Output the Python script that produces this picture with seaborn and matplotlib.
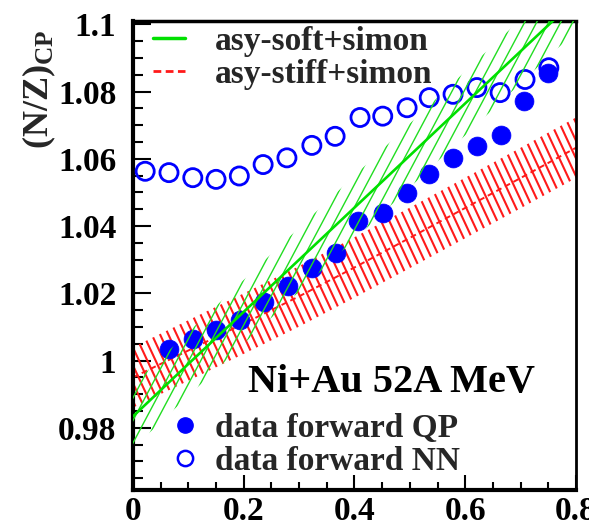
import numpy as np
import matplotlib
matplotlib.use("Agg")
import matplotlib.pyplot as plt
import seaborn as sns
from matplotlib.collections import LineCollection
from matplotlib.lines import Line2D
from matplotlib.ticker import FixedLocator, MultipleLocator, FuncFormatter

# ---------------- data ----------------
x_nn = [0.022, 0.065, 0.108, 0.150, 0.192, 0.235, 0.278, 0.323, 0.365,
        0.410, 0.451, 0.495, 0.535, 0.578, 0.621, 0.663, 0.708, 0.751]
y_nn = [1.0563, 1.0559, 1.0544, 1.0539, 1.0549, 1.0583, 1.0603, 1.0640, 1.0667,
        1.0723, 1.0727, 1.0752, 1.0782, 1.0792, 1.0812, 1.0797, 1.0836, 1.0871]

x_qp = [0.065, 0.108, 0.150, 0.193, 0.237, 0.280, 0.323, 0.367, 0.406,
        0.451, 0.495, 0.535, 0.578, 0.621, 0.665, 0.706, 0.749]
y_qp = [1.0035, 1.0065, 1.0090, 1.0122, 1.0174, 1.0221, 1.0276, 1.0321, 1.0415,
        1.0440, 1.0499, 1.0554, 1.0603, 1.0638, 1.0670, 1.0772, 1.0856]

x_model = [0.0, 0.1, 0.2, 0.3, 0.4, 0.5, 0.6, 0.7, 0.8]
soft_center = [0.9834, 0.9990, 1.0145, 1.0300, 1.0455, 1.0610, 1.0765, 1.0920, 1.1075]
soft_halfwidth = [0.0095] * 9
stiff_center = [0.9950, 1.0030, 1.0110, 1.0191, 1.0277, 1.0365, 1.0454, 1.0543, 1.0633]
stiff_halfwidth = [0.0090] * 9

x_ticks = [0.0, 0.2, 0.4, 0.6, 0.8]
y_ticks = [0.98, 1.00, 1.02, 1.04, 1.06, 1.08, 1.10]
model_labels = ["asy-soft+simon", "asy-stiff+simon"]
data_labels = ["data forward QP", "data forward NN"]
system_text = "Ni+Au 52A MeV"
y_label = r"(N/Z)$_{\mathbf{CP}}$"

# ---------------- style ----------------
sns.set_theme(style="ticks")
plt.rcParams["font.family"] = ["Liberation Serif", "DejaVu Serif"]
plt.rcParams["font.weight"] = "bold"
plt.rcParams["mathtext.fontset"] = "custom"
plt.rcParams["mathtext.rm"] = "Liberation Serif:bold"
plt.rcParams["mathtext.bf"] = "Liberation Serif:bold"
plt.rcParams["mathtext.it"] = "Liberation Serif:bold:italic"

GREEN = "#00e000"
GREEN_H = "#22dd22"
RED = "#ff1a1a"
BLUE = "#0000ff"

fig = plt.figure(figsize=(5.89, 5.29), dpi=100)
ax = fig.add_axes([0.2258, 0.0737, 0.7521, 0.8866])
ax.set_xlim(0, 0.8)
ax.set_ylim(0.9615, 1.101)


def hatch_band(ax, x, center, half, angle, spacing_px, color, lw, z):
    x = np.asarray(x)
    c = np.asarray(center)
    h = np.asarray(half)
    band = ax.fill_between(x, c - h, c + h, facecolor="none",
                           edgecolor="none", linewidth=0)
    f = ax.figure
    pos = ax.get_position()
    W = pos.width * f.get_figwidth() * f.dpi
    H = pos.height * f.get_figheight() * f.dpi
    a = np.deg2rad(angle)
    d = np.array([np.cos(a), np.sin(a)])
    n = np.array([-np.sin(a), np.cos(a)])
    corners = np.array([[0, 0], [W, 0], [0, H], [W, H]])
    cs = corners @ n
    step = spacing_px * abs(np.sin(a))
    L = W + H
    segs = []
    for cc in np.arange(cs.min() - step, cs.max() + step, step):
        p0 = cc * n - L * d
        p1 = cc * n + L * d
        segs.append([(p0[0] / W, p0[1] / H), (p1[0] / W, p1[1] / H)])
    lc = LineCollection(segs, colors=color, linewidths=lw,
                        transform=ax.transAxes, zorder=z)
    ax.add_collection(lc, autolim=False)
    lc.set_clip_path(band.get_paths()[0], ax.transData)


# stiff band (red, "\" hatching)
hatch_band(ax, x_model, stiff_center, stiff_halfwidth, -65, 8.3, RED, 1.5, 1)
sns.lineplot(x=x_model, y=stiff_center, ax=ax, color=RED, linewidth=1.4,
             linestyle=(0, (3, 2)), zorder=2)

# data points
sns.scatterplot(x=x_qp, y=y_qp, ax=ax, marker="o", s=185, color=BLUE,
                edgecolor=BLUE, linewidth=0.5, zorder=3)
sns.scatterplot(x=x_nn, y=y_nn, ax=ax, marker="o", s=170, facecolor="none",
                edgecolor=BLUE, linewidth=2.0, zorder=3)

# soft band (green, "/" hatching)
hatch_band(ax, x_model, soft_center, soft_halfwidth, 62, 12, GREEN_H, 1.0, 4)
sns.lineplot(x=x_model, y=soft_center, ax=ax, color=GREEN, linewidth=1.9, zorder=5)

ax.set_xlim(0, 0.8)
ax.set_ylim(0.9615, 1.101)

# ---------------- axes ----------------
fmt = FuncFormatter(lambda v, p: f"{v:g}")
ax.xaxis.set_major_locator(FixedLocator(x_ticks))
ax.xaxis.set_minor_locator(MultipleLocator(0.05))
ax.yaxis.set_major_locator(FixedLocator(y_ticks))
ax.yaxis.set_minor_locator(MultipleLocator(0.005))
ax.xaxis.set_major_formatter(fmt)
ax.yaxis.set_major_formatter(fmt)
ax.tick_params(axis="both", which="both", direction="in", colors="black",
               labelsize=24, top=False, right=False)
ax.tick_params(axis="y", which="major", length=13, width=1.5, pad=12)
ax.tick_params(axis="y", which="minor", length=7, width=1.5)
ax.tick_params(axis="x", which="major", length=11, width=1.5, pad=4.5)
ax.tick_params(axis="x", which="minor", length=6, width=1.5)
for lab in ax.get_xticklabels() + ax.get_yticklabels():
    lab.set_fontweight("bold")
for side, w in [("left", 3.0), ("bottom", 3.0), ("top", 2.5), ("right", 2.0)]:
    ax.spines[side].set_linewidth(w)
    ax.spines[side].set_color("black")
ax.set_xlabel("")
ax.set_ylabel(y_label, fontsize=26, fontweight="bold")
ax.yaxis.set_label_coords(-0.17, 0.855)

# ---------------- legends / text ----------------
h_models = [Line2D([], [], color=GREEN, lw=2.5),
            Line2D([], [], color=RED, lw=2.0, linestyle=(0, (2.8, 1.6)))]
leg1 = ax.legend(h_models, model_labels, loc="upper left",
                 bbox_to_anchor=(0.045, 0.99), frameon=False, borderpad=0,
                 borderaxespad=0, handlelength=0.96, handletextpad=0.9,
                 labelspacing=0.06, prop={"family": "Liberation Serif",
                                          "weight": "bold", "size": 24})
ax.add_artist(leg1)

h_data = [Line2D([], [], color=BLUE, marker="o", linestyle="none",
                 markersize=11, markerfacecolor=BLUE, markeredgecolor=BLUE),
          Line2D([], [], color=BLUE, marker="o", linestyle="none",
                 markersize=11, markerfacecolor="none", markeredgecolor=BLUE,
                 markeredgewidth=1.8)]
leg2 = ax.legend(h_data, data_labels, loc="upper left",
                 bbox_to_anchor=(0.079, 0.165), frameon=False, borderpad=0,
                 borderaxespad=0, handlelength=1.0, handletextpad=0.42,
                 labelspacing=0.06, prop={"family": "Liberation Serif",
                                          "weight": "bold", "size": 24})

ax.text(0.26, 0.209, system_text, transform=ax.transAxes, fontsize=29,
        fontweight="bold", ha="left", va="baseline", color="black", zorder=6)

fig.savefig("out.png", dpi=100)
